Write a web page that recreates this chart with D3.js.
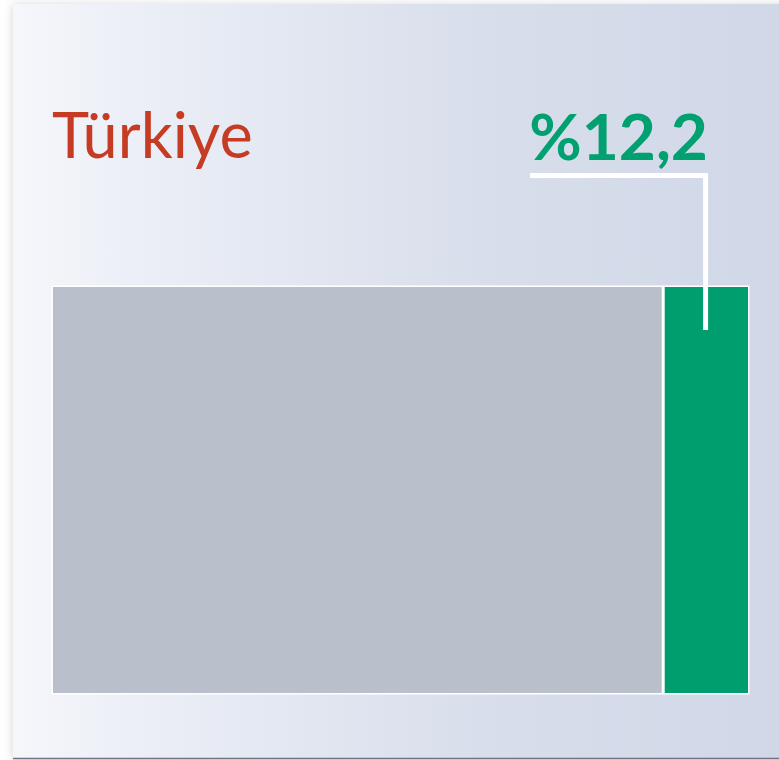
<!DOCTYPE html>
<html>
<head>
<meta charset="utf-8">
<script src="https://cdn.jsdelivr.net/npm/d3@7"></script>
<style>
  body { margin: 0; background: #fff; }
  svg { display: block; }
</style>
</head>
<body>
<div id="chart"></div>
<script>
// data
var country = "Türkiye";
var segments = ["diğer", "pay"];
var values = [87.8, 12.2];
var valueLabel = "%12,2";

var width = 779, height = 760;
var svg = d3.select("#chart").append("svg")
  .attr("width", width)
  .attr("height", height);

var defs = svg.append("defs");
var grad = defs.append("linearGradient").attr("id", "bg")
  .attr("x1", "0%").attr("x2", "100%").attr("y1", "0%").attr("y2", "0%");
grad.append("stop").attr("offset", "0%").attr("stop-color", "#f6f7fb");
grad.append("stop").attr("offset", "15%").attr("stop-color", "#eceff7");
grad.append("stop").attr("offset", "60%").attr("stop-color", "#d8deeb");
grad.append("stop").attr("offset", "100%").attr("stop-color", "#d0d7e7");

var shadow = defs.append("filter").attr("id", "shadow")
  .attr("x", "-5%").attr("y", "-5%").attr("width", "110%").attr("height", "110%");
shadow.append("feDropShadow").attr("dx", 0).attr("dy", 1)
  .attr("stdDeviation", 5).attr("flood-color", "#000").attr("flood-opacity", 0.18);

// card
svg.append("rect")
  .attr("x", 13).attr("y", 4)
  .attr("width", width).attr("height", 754)
  .attr("fill", "url(#bg)")
  .attr("filter", "url(#shadow)");
svg.append("line")
  .attr("x1", 13).attr("x2", width)
  .attr("y1", 758.5).attr("y2", 758.5)
  .attr("stroke", "#6f7480").attr("stroke-width", 1.5);

// scales
var x = d3.scaleLinear().domain([0, d3.sum(values)]).range([53, 748]);
var barTop = 287, barBottom = 693;

var stack = [];
var acc = 0;
values.forEach(function(v, i) {
  stack.push({ key: segments[i], x0: acc, x1: acc + v });
  acc += v;
});

var color = d3.scaleOrdinal().domain(segments).range(["#b9bfcb", "#009e6e"]);

// white frame around the bar
svg.append("rect")
  .attr("x", x(0) - 1.5).attr("y", barTop - 1.5)
  .attr("width", x(acc) - x(0) + 3).attr("height", barBottom - barTop + 3)
  .attr("fill", "#fff");

svg.append("g")
  .selectAll("rect")
  .data(stack)
  .enter()
  .append("rect")
    .attr("x", function(d, i) { return x(d.x0) + (i > 0 ? 1.5 : 0); })
    .attr("y", barTop)
    .attr("width", function(d) { return x(d.x1) - x(d.x0) - 1.5; })
    .attr("height", barBottom - barTop)
    .attr("fill", function(d) { return color(d.key); });

// leader line from label into the green segment
var last = stack[stack.length - 1];
var lx = x(last.x0) + (x(last.x1) - x(last.x0)) * 0.5;
svg.append("path")
  .attr("d", "M530," + 175.5 + "H" + lx + "V330")
  .attr("fill", "none")
  .attr("stroke", "#fff")
  .attr("stroke-width", 5);

// texts
svg.append("text")
  .attr("x", 52).attr("y", 158)
  .attr("font-family", "Lato, 'Open Sans', sans-serif")
  .attr("font-size", 63)
  .attr("fill", "#c63b24")
  .text(country);

svg.append("text")
  .attr("x", 708).attr("y", 160)
  .attr("text-anchor", "end")
  .attr("font-family", "Lato, 'Open Sans', sans-serif")
  .attr("font-weight", "bold")
  .attr("font-size", 64)
  .attr("fill", "#00a071")
  .text(valueLabel);
</script>
</body>
</html>
